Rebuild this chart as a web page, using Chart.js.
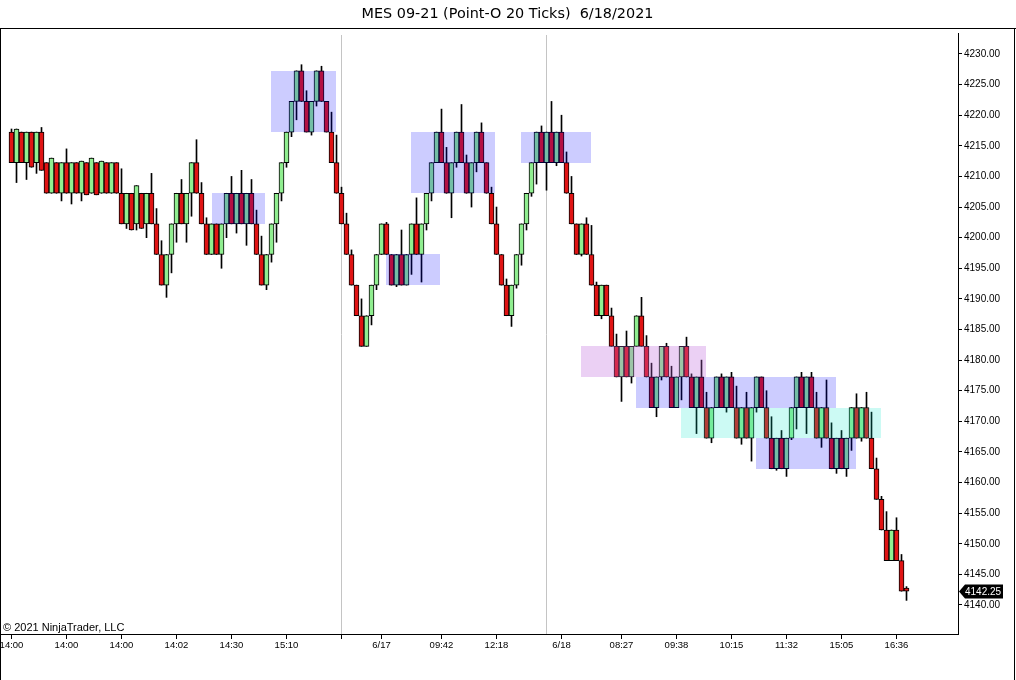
<!DOCTYPE html>
<html><head><meta charset="utf-8">
<script src="https://cdn.jsdelivr.net/npm/chart.js@4.4.0/dist/chart.umd.min.js"></script>
<style>html,body{margin:0;padding:0;background:#fff;}#wrap{position:relative;width:1016px;height:680px;}</style>
</head><body><div id="wrap"><canvas id="c"></canvas></div>
<script>
const opens = [
4217.25,4212.25,4217.25,4212.25,4217.25,4212.25,4217.25,4212.25,4207.25,4212.25,
4207.25,4212.25,4207.25,4212.25,4207.25,4212.25,4207.25,4212.25,4207.25,4212.25,
4207.25,4212.25,4207.25,4202.25,4207.25,4202.25,4207.25,4202.25,4207.25,4202.25,
4197.25,4192.25,4197.25,4202.25,4207.25,4202.25,4207.25,4212.25,4207.25,4202.25,
4197.25,4202.25,4197.25,4202.25,4207.25,4202.25,4207.25,4202.25,4207.25,4202.25,
4197.25,4192.25,4197.25,4202.25,4207.25,4212.25,4217.25,4222.25,4227.25,4222.25,
4217.25,4222.25,4227.25,4222.25,4217.25,4212.25,4207.25,4202.25,4197.25,4192.25,
4187.25,4182.25,4187.25,4192.25,4197.25,4202.25,4197.25,4192.25,4197.25,4192.25,
4197.25,4202.25,4197.25,4202.25,4207.25,4212.25,4217.25,4212.25,4207.25,4212.25,
4217.25,4212.25,4207.25,4212.25,4217.25,4212.25,4207.25,4202.25,4197.25,4192.25,
4187.25,4192.25,4197.25,4202.25,4207.25,4212.25,4217.25,4212.25,4217.25,4212.25,
4217.25,4212.25,4207.25,4202.25,4197.25,4202.25,4197.25,4192.25,4187.25,4192.25,
4187.25,4182.25,4177.25,4182.25,4177.25,4182.25,4187.25,4182.25,4177.25,4172.25,
4177.25,4182.25,4177.25,4172.25,4177.25,4182.25,4177.25,4172.25,4177.25,4172.25,
4167.25,4172.25,4177.25,4172.25,4177.25,4172.25,4167.25,4172.25,4167.25,4172.25,
4177.25,4172.25,4167.25,4162.25,4167.25,4162.25,4167.25,4172.25,4177.25,4172.25,
4177.25,4172.25,4167.25,4172.25,4167.25,4162.25,4167.25,4162.25,4167.25,4172.25,
4167.25,4172.25,4167.25,4162.25,4157.25,4152.25,4147.25,4152.25,4147.25,4142.75];
const closes = [
4212.25,4217.75,4212.25,4217.25,4211.5,4217.25,4211.0,4207.25,4213.0,4207.25,
4212.25,4207.25,4212.25,4207.25,4212.5,4207.0,4213.0,4207.0,4212.5,4207.25,
4212.25,4207.25,4202.25,4207.25,4201.25,4208.5,4201.5,4207.25,4202.25,4197.25,
4192.25,4197.25,4202.25,4207.25,4202.25,4207.25,4212.25,4207.25,4202.25,4197.25,
4202.25,4197.25,4202.25,4207.25,4202.25,4207.25,4202.25,4207.25,4202.25,4197.25,
4192.25,4197.25,4202.25,4207.25,4212.25,4217.25,4222.25,4227.25,4222.25,4217.25,
4222.25,4227.25,4222.25,4217.25,4212.25,4207.25,4202.25,4197.25,4192.25,4187.25,
4182.25,4187.25,4192.25,4197.25,4202.25,4197.25,4192.25,4197.25,4192.25,4197.25,
4202.25,4197.25,4202.25,4207.25,4212.25,4217.25,4212.25,4207.25,4212.25,4217.25,
4212.25,4207.25,4212.25,4217.25,4212.25,4207.25,4202.25,4197.25,4192.25,4187.25,
4192.25,4197.25,4202.25,4207.25,4212.25,4217.25,4212.25,4217.25,4212.25,4217.25,
4212.25,4207.25,4202.25,4197.25,4202.25,4197.25,4192.25,4187.25,4192.25,4187.25,
4182.25,4177.25,4182.25,4177.25,4182.25,4187.25,4182.25,4177.25,4172.25,4177.25,
4182.25,4177.25,4172.25,4177.25,4182.25,4177.25,4172.25,4177.25,4172.25,4167.25,
4172.25,4177.25,4172.25,4177.25,4172.25,4167.25,4172.25,4167.25,4172.25,4177.25,
4172.25,4167.25,4162.25,4167.25,4162.25,4167.25,4172.25,4177.25,4172.25,4177.25,
4172.25,4167.25,4172.25,4167.25,4162.25,4167.25,4162.25,4167.25,4172.25,4167.25,
4172.25,4167.25,4162.25,4157.25,4152.25,4147.25,4152.25,4147.25,4142.25,4142.25];
const highs = [
4217.75,4217.75,4217.25,4217.25,4217.25,4217.25,4218.0,4212.25,4213.0,4212.25,
4212.25,4214.5,4212.25,4212.25,4212.5,4212.25,4213.0,4212.25,4212.5,4212.25,
4212.25,4212.25,4211.25,4207.25,4207.25,4208.5,4207.25,4207.25,4210.5,4204.75,
4199.5,4197.25,4202.25,4207.25,4209.5,4207.25,4212.25,4216.0,4209.0,4203.25,
4202.25,4202.25,4202.25,4207.25,4210.0,4207.25,4211.0,4207.25,4209.5,4204.5,
4200.25,4197.25,4202.25,4207.25,4212.25,4217.25,4222.25,4227.25,4228.25,4224.0,
4222.25,4227.25,4228.0,4222.25,4220.5,4216.75,4208.25,4204.0,4198.0,4192.25,
4190.0,4187.25,4192.25,4197.25,4202.25,4202.5,4197.25,4197.25,4201.25,4197.25,
4202.25,4206.5,4202.25,4207.25,4212.25,4217.25,4221.0,4214.75,4212.25,4217.25,
4221.75,4213.5,4212.25,4217.25,4218.75,4212.25,4208.25,4205.0,4197.25,4193.25,
4192.25,4197.25,4202.25,4207.25,4212.25,4217.25,4218.25,4217.25,4222.25,4217.25,
4220.0,4214.0,4210.0,4202.25,4202.25,4203.25,4202.0,4192.75,4192.25,4192.25,
4188.5,4184.25,4182.25,4184.75,4182.25,4187.25,4190.25,4184.0,4179.5,4177.25,
4182.25,4182.75,4179.0,4177.25,4182.25,4183.75,4177.75,4177.25,4180.0,4174.75,
4172.25,4177.25,4177.75,4177.25,4178.0,4175.75,4172.25,4174.75,4172.25,4177.25,
4177.25,4175.0,4170.75,4167.25,4168.5,4167.25,4172.25,4177.25,4178.0,4177.25,
4178.0,4174.75,4172.25,4176.75,4169.75,4167.25,4168.5,4167.25,4172.25,4174.5,
4172.25,4174.75,4171.5,4164.0,4157.75,4155.25,4152.25,4154.25,4148.25,4143.0];
const lows = [
4212.25,4209.0,4212.25,4209.5,4211.5,4210.5,4211.0,4207.25,4207.25,4207.25,
4206.0,4207.25,4205.5,4207.25,4206.0,4207.0,4207.25,4207.0,4207.25,4207.25,
4207.25,4207.25,4202.25,4201.5,4201.25,4201.25,4201.5,4200.0,4202.25,4197.25,
4192.25,4190.25,4194.25,4199.25,4202.25,4199.25,4203.5,4207.25,4202.25,4197.25,
4197.25,4197.25,4195.0,4200.0,4202.25,4200.75,4202.25,4198.75,4202.25,4197.25,
4192.25,4191.5,4196.0,4199.25,4206.0,4211.5,4216.5,4219.25,4222.25,4217.25,
4216.75,4221.5,4222.25,4217.25,4212.25,4207.25,4202.25,4197.25,4192.25,4187.25,
4182.25,4182.25,4185.75,4191.5,4197.25,4197.25,4192.25,4192.0,4192.25,4192.25,
4194.0,4197.25,4192.75,4201.25,4206.0,4212.25,4212.25,4207.25,4203.25,4211.5,
4212.25,4207.25,4205.0,4210.75,4212.25,4207.25,4202.25,4197.25,4192.25,4187.25,
4185.5,4191.75,4195.5,4201.25,4206.75,4208.75,4212.25,4207.75,4212.25,4211.75,
4212.25,4207.25,4202.25,4197.25,4197.0,4197.25,4192.25,4187.25,4186.75,4187.25,
4182.25,4177.25,4173.25,4177.25,4176.25,4182.25,4182.25,4177.25,4172.25,4170.75,
4176.75,4177.25,4172.25,4172.25,4173.5,4177.25,4172.25,4168.0,4172.25,4167.25,
4166.5,4172.25,4172.25,4171.5,4172.25,4167.25,4166.25,4167.25,4163.5,4171.5,
4172.25,4167.25,4162.25,4162.0,4162.25,4161.0,4167.0,4168.75,4172.25,4168.0,
4172.25,4167.25,4165.75,4167.25,4162.25,4161.5,4162.25,4161.0,4165.25,4167.25,
4166.75,4167.25,4162.25,4157.25,4152.25,4147.25,4147.25,4147.25,4142.25,4140.75];

const xTickIndex  = [0,11,22,33,44,55,66,74,86,97,110,122,133,144,155,166,177];
const xTickLabels = ['14:00','14:00','14:00','14:02','14:30','15:10','','6/17','09:42','12:18','6/18','08:27','09:38','10:15','11:32','15:05','16:36'];
const sessionBreaks = [66, 107];

const zoneStart = [40.1, 51.9, 74.9, 79.9, 101.9, 113.9, 124.8, 133.9, 148.8];
const zoneEnd   = [50.7, 64.9, 85.7, 96.8, 115.9, 138.8, 164.8, 173.9, 168.8];
const zoneLow   = [4202.25, 4217.25, 4192.25, 4207.25, 4212.25, 4177.25, 4172.25, 4167.25, 4162.25];
const zoneHigh  = [4207.25, 4227.25, 4197.25, 4217.25, 4217.25, 4182.25, 4177.25, 4172.25, 4167.25];
const zoneKind  = ['blue','blue','blue','blue','blue','pink','blue','cyan','blue'];

const ZONE_COLORS = {blue:'rgba(0,0,255,0.2)', pink:'rgba(190,100,220,0.3)', cyan:'rgba(0,230,200,0.2)'};
const UP = '#90ee90', DOWN = '#e01414';

const overlay = {
  id: 'overlay',
  beforeDatasetsDraw(chart) {
    const {ctx, chartArea: a, scales: {x}} = chart;
    ctx.save();
    ctx.strokeStyle = '#c4c4c4'; ctx.lineWidth = 1;
    sessionBreaks.forEach(i => {
      const px = Math.floor(x.getPixelForValue(i)) + 0.5;
      ctx.beginPath(); ctx.moveTo(px, a.top + 2); ctx.lineTo(px, a.bottom); ctx.stroke();
    });
    ctx.restore();
  },
  afterDatasetsDraw(chart) {
    const {ctx, chartArea: a, scales: {x, y}} = chart;
    ctx.save();
    ctx.beginPath(); ctx.rect(a.left, a.top, a.right - a.left, a.bottom - a.top); ctx.clip();
    zoneStart.forEach((s, k) => {
      const x0 = Math.round(x.getPixelForValue(s)), x1 = Math.round(x.getPixelForValue(zoneEnd[k]));
      const y0 = Math.round(y.getPixelForValue(zoneHigh[k])), y1 = Math.round(y.getPixelForValue(zoneLow[k]));
      ctx.fillStyle = ZONE_COLORS[zoneKind[k]];
      ctx.fillRect(x0, y0, x1 - x0, y1 - y0);
    });
    ctx.restore();
  },
  afterDraw(chart) {
    const {ctx, chartArea: a, scales: {y}} = chart;
    ctx.save();
    ctx.strokeStyle = '#000'; ctx.lineWidth = 1;
    ctx.beginPath();
    ctx.moveTo(0, 28.5); ctx.lineTo(1016, 28.5);
    ctx.moveTo(0.5, 28); ctx.lineTo(0.5, 680);
    ctx.moveTo(1014.5, 28); ctx.lineTo(1014.5, 680);
    ctx.stroke();
    ctx.fillStyle = '#000';
    ctx.font = '11px "Liberation Sans", Arial, sans-serif';
    ctx.textBaseline = 'alphabetic'; ctx.textAlign = 'left';
    ctx.fillText('\u00A9 2021 NinjaTrader, LLC', 3, 631);
    const last = closes[closes.length - 1];
    const py = Math.round(y.getPixelForValue(last)) + 0.5;
    const lx = a.right + 1;
    ctx.beginPath();
    ctx.moveTo(lx, py); ctx.lineTo(lx + 6, py - 7); ctx.lineTo(1003, py - 7);
    ctx.lineTo(1003, py + 7); ctx.lineTo(lx + 6, py + 7); ctx.closePath();
    ctx.fillStyle = '#000'; ctx.fill();
    ctx.fillStyle = '#fff';
    ctx.font = '10px "Liberation Sans", Arial, sans-serif';
    ctx.textBaseline = 'middle';
    ctx.fillText(last.toFixed(2), lx + 6, py + 0.5);
    ctx.restore();
  }
};

new Chart(document.getElementById('c'), {
  type: 'bar',
  data: {
    datasets: [
      { label: 'wicks', data: highs.map((h, i) => ({x: i, y: [lows[i], h]})),
        backgroundColor: '#000', borderWidth: 0, barThickness: 1, grouped: false, order: 2 },
      { label: 'bodies', data: opens.map((o, i) => ({x: i, y: [o, closes[i]]})),
        backgroundColor: opens.map((o, i) => closes[i] >= o ? UP : DOWN),
        borderColor: '#000', borderWidth: 1, borderSkipped: false, barThickness: 5, grouped: false, order: 1 }
    ]
  },
  options: {
    responsive: true, maintainAspectRatio: false, animation: false,
    layout: { padding: { left: 1, right: 2, top: 0, bottom: 1 } },
    plugins: {
      legend: { display: false }, tooltip: { enabled: false },
      title: { display: true, text: 'MES 09-21 (Point-O 20 Ticks)  6/18/2021', color: '#000',
        font: { family: '"DejaVu Sans", sans-serif', size: 14.4, weight: 'normal' },
        padding: { top: 6, bottom: 9.72 } }
    },
    scales: {
      x: {
        type: 'linear', position: 'bottom', min: -2.1, max: 189.3, offset: false,
        grid: { display: true, drawOnChartArea: false, drawTicks: true, tickLength: 5, color: '#000', offset: false },
        border: { display: true, color: '#000' },
        ticks: { autoSkip: false, maxRotation: 0, minRotation: 0, color: '#000', padding: 1,
          font: { family: '"Liberation Sans", Arial, sans-serif', size: 9.5 },
          callback: (v, i) => xTickLabels[i] },
        afterBuildTicks: s => { s.ticks = xTickIndex.map(v => ({value: v})); },
        afterFit: s => { s.height = 45; s.paddingLeft = 0; s.paddingRight = 0; }
      },
      y: {
        type: 'linear', position: 'right', min: 4135.26, max: 4233.43,
        grid: { display: true, drawOnChartArea: false, drawTicks: true, tickLength: 4, color: '#000' },
        border: { display: true, color: '#000' },
        ticks: { stepSize: 5, includeBounds: false, color: '#000', padding: 2,
          font: { family: '"Liberation Sans", Arial, sans-serif', size: 10 },
          callback: v => Number(v).toFixed(2) },
        afterFit: s => { s.width = 56; s.paddingTop = 0; s.paddingBottom = 0; }
      }
    }
  },
  plugins: [overlay]
});
</script></body></html>
